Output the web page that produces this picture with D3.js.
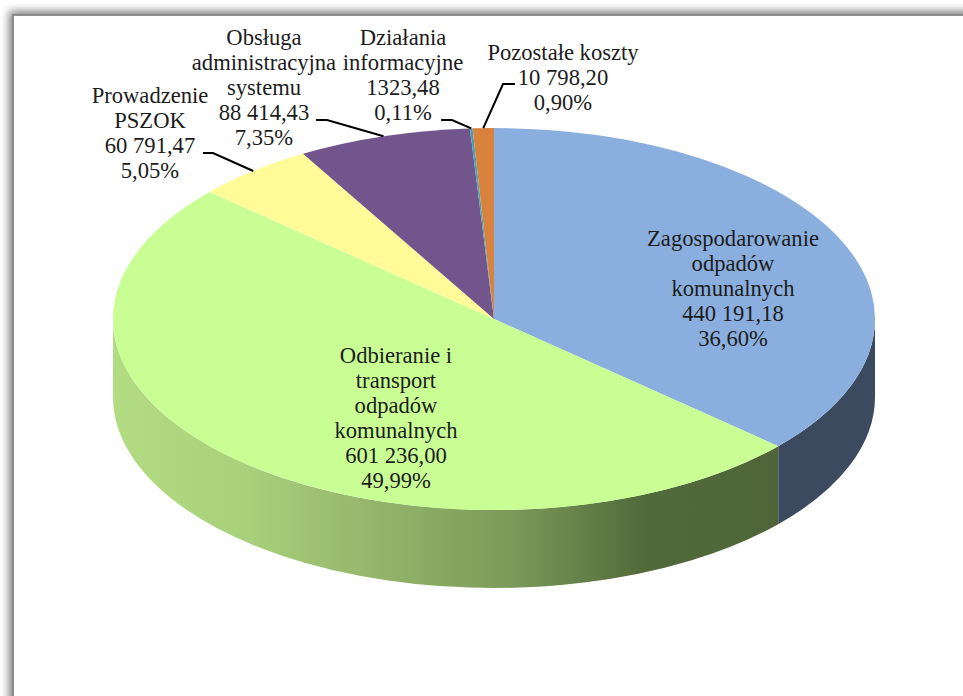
<!DOCTYPE html>
<html>
<head>
<meta charset="utf-8">
<script src="https://cdn.jsdelivr.net/npm/d3@7"></script>
<style>
  html, body { margin: 0; background: #fff; }
  svg { display: block; }
  text { font-family: "Liberation Serif", serif; font-size: 22.6px; fill: #1c1c1c; text-anchor: middle; }
</style>
</head>
<body>
<div class="chart"></div>
<script>
let categories = [
  ['Zagospodarowanie', 'odpadów', 'komunalnych'],
  ['Odbieranie i', 'transport', 'odpadów', 'komunalnych'],
  ['Prowadzenie', 'PSZOK'],
  ['Obsługa', 'administracyjna', 'systemu'],
  ['Działania', 'informacyjne'],
  ['Pozostałe koszty']
];
let values = [440191.18, 601236.00, 60791.47, 88414.43, 1323.48, 10798.20];
let valueLabels = ['440 191,18', '601 236,00', '60 791,47', '88 414,43', '1323,48', '10 798,20'];
let percentLabels = ['36,60%', '49,99%', '5,05%', '7,35%', '0,11%', '0,90%'];
let topColors = ['#8aafde', '#c8fe93', '#fffb98', '#71558c', '#45a5b5', '#d9823e'];
let sideColors = ['#3b4a5f', 'url(#greenSide)', '#a09c5c', '#45335a', '#2b6a75', '#8a5226'];

const width = 963, height = 696;
const cx = 494, cy = 319, rx = 381, ry = 191, depth = 78;
const squash = ry / rx;

let canvas = d3.select('.chart')
  .append('svg')
  .attr('width', width)
  .attr('height', height);

let defs = canvas.append('defs');

defs.append('filter')
  .attr('id', 'blur')
  .attr('x', '-5%').attr('y', '-5%').attr('width', '110%').attr('height', '110%')
  .append('feGaussianBlur')
  .attr('stdDeviation', 4);

let greenGrad = defs.append('linearGradient')
  .attr('id', 'greenSide')
  .attr('gradientUnits', 'userSpaceOnUse')
  .attr('x1', -rx).attr('x2', 778 - cx)
  .attr('y1', 0).attr('y2', 0);

[[0, '#b2dc82'], [0.2, '#a9d07b'], [0.4, '#93b56a'], [0.6, '#7b9a58'], [0.8, '#506a3a'], [1, '#4f6539']]
  .forEach(s => greenGrad.append('stop').attr('offset', s[0]).attr('stop-color', s[1]));

// frame with its soft shadow, runs off the right and bottom of the window
canvas.append('rect')
  .attr('x', 9).attr('y', 11)
  .attr('width', width + 40).attr('height', height + 40)
  .attr('fill', '#808080')
  .attr('filter', 'url(#blur)');

canvas.append('rect')
  .attr('x', 12).attr('y', 14)
  .attr('width', width).attr('height', height)
  .attr('fill', '#8c8c8c');

canvas.append('rect')
  .attr('x', 14).attr('y', 16)
  .attr('width', width).attr('height', height)
  .attr('fill', '#fff');

let pie = d3.pie().sort(null).value(d => d);
let slices = pie(values);

let arc = d3.arc().innerRadius(0).outerRadius(rx);

let pie3d = canvas.append('g')
  .attr('transform', `translate(${cx},${cy}) scale(1,${squash})`);

// side wall: only the part of each slice facing the viewer
function sidePath(d) {
  let a0 = Math.max(d.startAngle, Math.PI / 2) - Math.PI / 2;
  let a1 = Math.min(d.endAngle, Math.PI * 1.5) - Math.PI / 2;
  if (a1 <= a0) return null;
  let h = depth / squash;
  let p = d3.path();
  p.arc(0, 0, rx, a0, a1);
  p.arc(0, h, rx, a1, a0, true);
  p.closePath();
  return p.toString();
}

pie3d.selectAll('path.side')
  .data(slices)
  .join('path')
  .attr('class', 'side')
  .attr('d', sidePath)
  .attr('fill', (d, i) => sideColors[i]);

pie3d.selectAll('path.top')
  .data(slices)
  .join('path')
  .attr('class', 'top')
  .attr('d', arc)
  .attr('fill', (d, i) => topColors[i]);

// label placement, centre x and first line y
let labelPlace = [
  { x: 733, y: 246 },
  { x: 396, y: 363 },
  { x: 150, y: 103 },
  { x: 264, y: 45 },
  { x: 403, y: 45 },
  { x: 563, y: 60 }
];
const lineHeight = 25;

canvas.selectAll('text.label')
  .data(slices)
  .join('text')
  .attr('class', 'label')
  .each(function (d, i) {
    let lines = categories[i].concat([valueLabels[i], percentLabels[i]]);
    d3.select(this).selectAll('tspan')
      .data(lines)
      .join('tspan')
      .attr('x', labelPlace[i].x)
      .attr('y', (l, j) => labelPlace[i].y + j * lineHeight)
      .text(l => l);
  });

// leader lines: from beside the label to the outer edge of the slice
let leaders = [
  { i: 2, x0: 203, x1: 213, y: 153 },
  { i: 3, x0: 316, x1: 327, y: 120 },
  { i: 4, x0: 441, x1: 452, y: 120 },
  { i: 5, x0: 515, x1: 503, y: 84 }
];

canvas.selectAll('path.leader')
  .data(leaders)
  .join('path')
  .attr('class', 'leader')
  .attr('fill', 'none')
  .attr('stroke', '#000')
  .attr('stroke-width', 2)
  .attr('d', l => {
    let mid = (slices[l.i].startAngle + slices[l.i].endAngle) / 2;
    let ex = cx + rx * Math.sin(mid);
    let ey = cy - ry * Math.cos(mid);
    return d3.line()([[l.x0, l.y], [l.x1, l.y], [ex, ey]]);
  });
</script>
</body>
</html>
